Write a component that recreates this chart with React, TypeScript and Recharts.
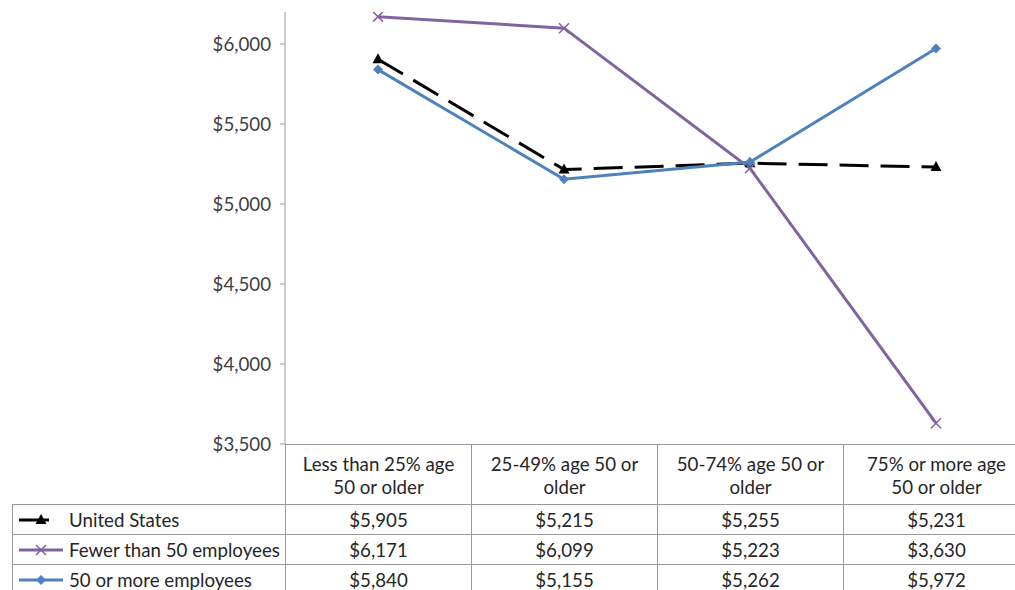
import React from 'react';
import { LineChart, Line, XAxis, YAxis } from 'recharts';

// Average cost per employee by share of workforce age 50 or older
const categoryLines: string[][] = [
  ['Less than 25% age', '50 or older'],
  ['25-49% age 50 or', 'older'],
  ['50-74% age 50 or', 'older'],
  ['75% or more age', '50 or older'],
];
const unitedStates = [5905, 5215, 5255, 5231];
const fewerThan50 = [6171, 6099, 5223, 3630];
const fiftyOrMore = [5840, 5155, 5262, 5972];
const yTicks = [3500, 4000, 4500, 5000, 5500, 6000];

const FONT = 'Lato, "Open Sans", sans-serif';
const FONT_SIZE = 18.7;
const GRID = '#9a9a9a';
const TEXT = '#262626';

const US_COLOR = '#000000';
const SMALL_COLOR = '#8064A2';
const LARGE_COLOR = '#4F81BD';

const data = categoryLines.map((lines, i) => ({
  name: lines.join(' '),
  us: unitedStates[i],
  small: fewerThan50[i],
  large: fiftyOrMore[i],
}));

const money = (v: number) => '$' + v.toLocaleString('en-US');

const Triangle = ({ cx, cy, color }: { cx: number; cy: number; color: string }) => (
  <path d={`M${cx},${cy - 6} L${cx + 5.5},${cy + 4} L${cx - 5.5},${cy + 4} Z`} fill={color} />
);

const Cross = ({ cx, cy, color }: { cx: number; cy: number; color: string }) => (
  <path
    d={`M${cx - 5},${cy - 5} L${cx + 5},${cy + 5} M${cx - 5},${cy + 5} L${cx + 5},${cy - 5}`}
    stroke={color}
    strokeWidth={1.5}
    fill="none"
  />
);

const Diamond = ({ cx, cy, color }: { cx: number; cy: number; color: string }) => (
  <path d={`M${cx},${cy - 5} L${cx + 5},${cy} L${cx},${cy + 5} L${cx - 5},${cy} Z`} fill={color} />
);

type DotProps = { cx?: number; cy?: number; index?: number };

const seriesDefs = [
  { key: 'us', label: 'United States', values: unitedStates, color: US_COLOR, dash: '29 12', Marker: Triangle },
  { key: 'small', label: 'Fewer than 50 employees', values: fewerThan50, color: SMALL_COLOR, dash: undefined, Marker: Cross },
  { key: 'large', label: '50 or more employees', values: fiftyOrMore, color: LARGE_COLOR, dash: undefined, Marker: Diamond },
];

function LegendKey({ color, dash, Marker }: { color: string; dash?: string; Marker: typeof Triangle }) {
  return (
    <svg width={56} height={14} style={{ display: 'block', flex: 'none' }}>
      <line x1={6} y1={7} x2={dash ? 36 : 50} y2={7} stroke={color} strokeWidth={3} />
      <Marker cx={28} cy={7} color={color} />
    </svg>
  );
}

const cellBorder = `1px solid ${GRID}`;

export default function App() {
  return (
    <div
      style={{
        position: 'absolute',
        left: 0,
        top: 0,
        width: 1015,
        height: 590,
        overflow: 'hidden',
        background: '#fff',
        fontFamily: FONT,
      }}
    >
      {/* extra bottom margin leaves room for the lowest tick label */}
      <LineChart width={1030} height={465} data={data} margin={{ top: 12, right: 1, left: 0, bottom: 21 }}>
        <XAxis dataKey="name" hide padding={{ left: 93, right: 93 }} />
        <YAxis
          width={285}
          domain={[3500, 6200]}
          ticks={yTicks}
          interval={0}
          tickFormatter={money}
          tick={{ fontSize: FONT_SIZE, fill: '#404040', fontFamily: FONT }}
          tickSize={5}
          tickMargin={9}
          axisLine={{ stroke: GRID }}
          tickLine={{ stroke: GRID }}
          allowDataOverflow
        />
        {seriesDefs.map((s) => (
          <Line
            key={s.key}
            type="linear"
            dataKey={s.key}
            stroke={s.color}
            strokeWidth={3}
            strokeDasharray={s.dash}
            dot={(p: DotProps) => <s.Marker key={`${s.key}-${p.index}`} cx={p.cx ?? 0} cy={p.cy ?? 0} color={s.color} />}
            activeDot={false}
            isAnimationActive={false}
          />
        ))}
      </LineChart>

      <table
        style={{
          position: 'absolute',
          top: 444,
          left: 12,
          borderCollapse: 'collapse',
          tableLayout: 'fixed',
          width: 273 + 186 * 4,
          fontSize: FONT_SIZE,
          color: TEXT,
          fontFamily: FONT,
        }}
      >
        <colgroup>
          <col style={{ width: 273 }} />
          {categoryLines.map((_, i) => (
            <col key={i} style={{ width: 186 }} />
          ))}
        </colgroup>
        <tbody>
          <tr style={{ height: 60 }}>
            <td style={{ padding: 0 }} />
            {categoryLines.map((lines, i) => (
              <td
                key={i}
                style={{
                  border: cellBorder,
                  textAlign: 'center',
                  padding: '2px 0 0',
                  lineHeight: '23px',
                  verticalAlign: 'middle',
                  background: '#fff',
                }}
              >
                {lines[0]}
                <br />
                {lines[1]}
              </td>
            ))}
          </tr>
          {seriesDefs.map((s) => (
            <tr key={s.key} style={{ height: 30 }}>
              <td style={{ border: cellBorder, padding: 0, lineHeight: '28px' }}>
                <div style={{ display: 'flex', alignItems: 'center', whiteSpace: 'nowrap' }}>
                  <LegendKey color={s.color} dash={s.dash} Marker={s.Marker} />
                  <span>{s.label}</span>
                </div>
              </td>
              {s.values.map((v, i) => (
                <td key={i} style={{ border: cellBorder, textAlign: 'center', padding: 0, lineHeight: '28px' }}>
                  {money(v)}
                </td>
              ))}
            </tr>
          ))}
        </tbody>
      </table>
    </div>
  );
}
